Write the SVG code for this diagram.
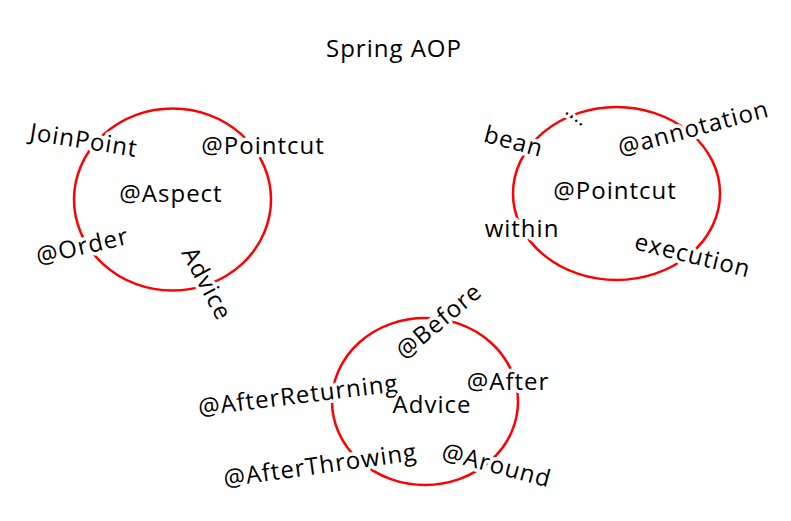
<svg xmlns="http://www.w3.org/2000/svg" width="791" height="521" viewBox="0 0 791 521">
<style>
.ring{fill:none;stroke:#f00;stroke-width:2.5}
text{font-family:"Open Sans","Noto Sans",sans-serif;font-size:24px;letter-spacing:1px;fill:#000;text-anchor:middle;dominant-baseline:central}
.h{stroke:#fff;stroke-width:7;paint-order:stroke;stroke-linejoin:round}
</style>
<rect width="791" height="521" fill="#fff"/>
<text id="title" x="394" y="47">Spring AOP</text>
<g id="aspect">
<ellipse class="ring" cx="172.5" cy="199.5" rx="98.5" ry="91"/>
<text class="h" transform="translate(84,139) rotate(9)">JoinPoint</text>
<text class="h" x="263" y="144">@Pointcut</text>
<text class="h" x="171" y="192">@Aspect</text>
<text class="h" transform="translate(82,245) rotate(-13)">@Order</text>
<text class="h" transform="translate(208,283) rotate(62)">Advice</text>
</g>
<g id="pointcut">
<ellipse class="ring" cx="616.5" cy="193.5" rx="103.5" ry="86.5"/>
<text class="h" transform="translate(514,140) rotate(15)">bean</text>
<text class="h" transform="translate(578,114) rotate(38)" style="font-size:20px;letter-spacing:0.5px">....</text>
<text class="h" transform="translate(693,127) rotate(-15)">@annotation</text>
<text class="h" x="615" y="189">@Pointcut</text>
<text class="h" x="522" y="227">within</text>
<text class="h" transform="translate(693,254) rotate(14)">execution</text>
</g>
<g id="advice">
<ellipse class="ring" cx="425" cy="401.5" rx="93" ry="83.5"/>
<text class="h" transform="translate(438,320) rotate(-40)">@Before</text>
<text class="h" transform="translate(298,394) rotate(-7)">@AfterReturning</text>
<text class="h" x="432" y="403">Advice</text>
<text class="h" x="508" y="380">@After</text>
<text class="h" transform="translate(320,464) rotate(-8)">@AfterThrowing</text>
<text class="h" transform="translate(497,464) rotate(15)">@Around</text>
</g>
</svg>
